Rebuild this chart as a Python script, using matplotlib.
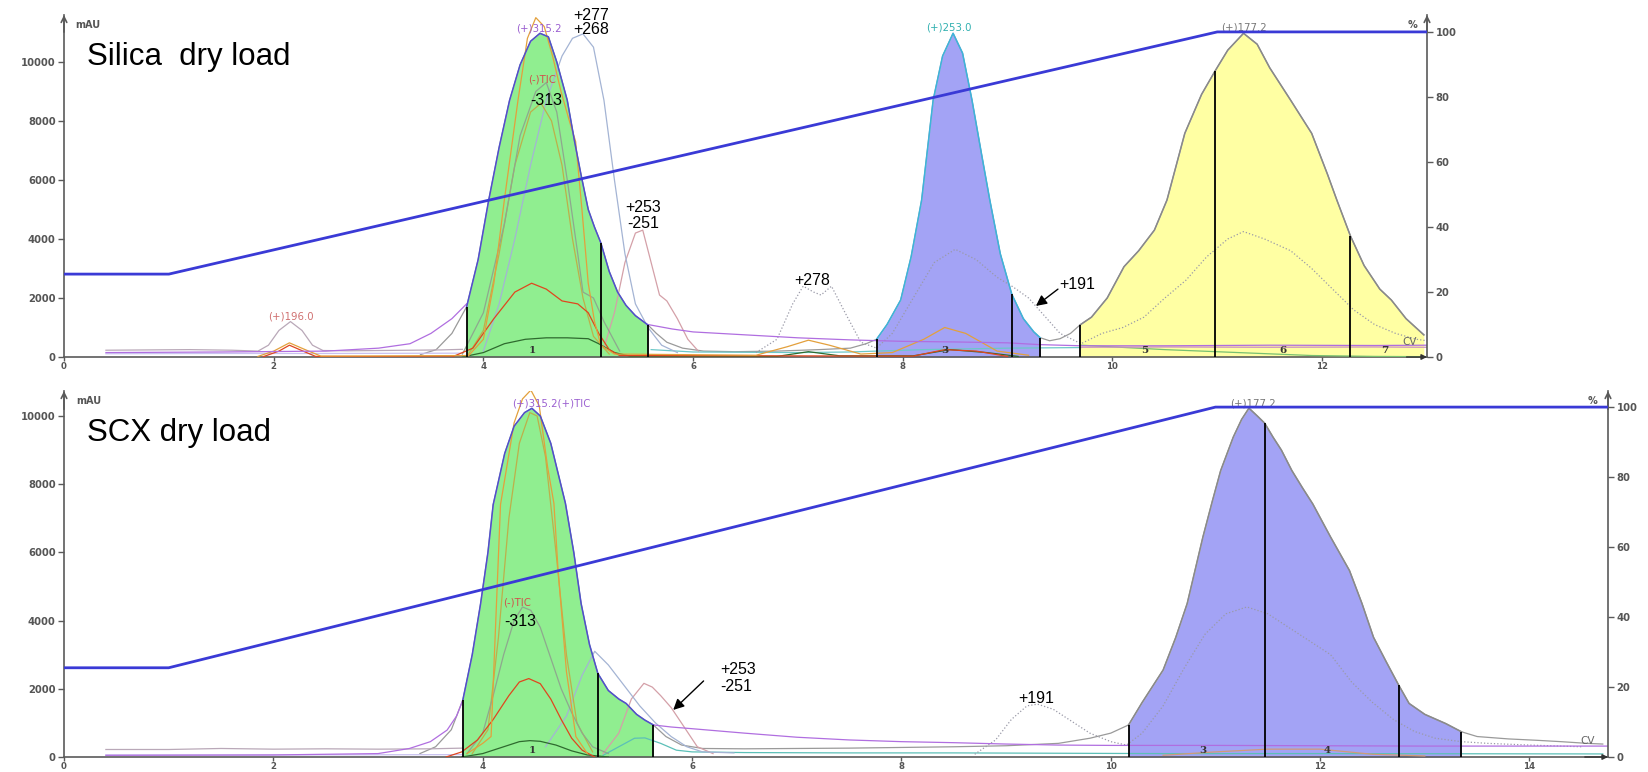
import matplotlib
matplotlib.use("Agg")
import matplotlib.pyplot as plt
import numpy as np
from matplotlib import font_manager

# ---------------- Silica dry load (top run) ----------------
top_uv_t = [3.40, 3.55, 3.70, 3.84, 3.95, 4.05, 4.15, 4.25, 4.35, 4.45, 4.54, 4.62, 4.70, 4.80, 4.87,
            4.93, 5.00, 5.06, 5.12, 5.20, 5.28, 5.36, 5.45, 5.57, 5.65, 5.75, 5.90, 6.10, 6.40, 6.80,
            7.20, 7.50, 7.65, 7.75, 7.85, 7.98, 8.08, 8.18, 8.29, 8.38, 8.48, 8.57, 8.66, 8.75, 8.83,
            8.93, 9.04, 9.15, 9.25, 9.31, 9.40, 9.50, 9.60, 9.69, 9.80, 9.95, 10.11, 10.25, 10.40, 10.52,
            10.69, 10.85, 10.98, 11.10, 11.25, 11.38, 11.50, 11.70, 11.90, 12.05, 12.14, 12.27, 12.40,
            12.55, 12.66, 12.80, 12.97]
top_uv = [80, 250, 800, 1700, 3300, 5300, 7100, 8700, 9900, 10700, 10970, 10850, 10000, 8700, 7300,
          6200, 5000, 4400, 3870, 2900, 2200, 1750, 1400, 1085, 800, 500, 300, 200, 180, 200,
          250, 300, 450, 600, 1100, 1930, 3400, 5320, 8710, 10200, 10970, 10300, 8710, 6900, 5320,
          3500, 2124, 1300, 850, 655, 550, 620, 800, 1085, 1350, 2000, 3060, 3600, 4300, 5320,
          7580, 8900, 9700, 10400, 10970, 10600, 9800, 8700, 7580, 6200, 5320, 4100, 3100,
          2300, 1930, 1300, 750]
top_fractions = [(3.84, 5.57), (7.75, 9.31), (9.69, 12.97)]
top_cuts = [3.84, 5.12, 5.57, 7.75, 9.04, 9.31, 9.69, 10.98, 12.27]
top_fraction_ids = ["1", "3", "5", "6", "7"]
top_fraction_pos = [4.47, 8.40, 10.31, 11.63, 12.60]

top_gradient_t = [0.0, 1.0, 11.0, 13.0]
top_gradient = [25.5, 25.5, 100.0, 100.0]

top_orange_t = [1.85, 2.00, 2.15, 2.30, 2.45, 3.86, 4.00, 4.10, 4.20, 4.33, 4.42, 4.50, 4.58, 4.66, 4.74,
                4.82, 4.88, 4.94, 5.00, 5.06, 5.12, 5.25, 6.60, 6.90, 7.10, 7.30, 7.60, 7.90, 8.20,
                8.40, 8.60, 8.90, 9.20]
top_orange = [20, 200, 480, 250, 30, 50, 600, 2500, 5320, 8700, 10800, 11500, 11200, 10200, 9000,
              8000, 7300, 5000, 2500, 1200, 400, 100, 60, 350, 570, 400, 100, 150, 600,
              1000, 800, 200, 60]
top_red_t = [1.90, 2.05, 2.15, 2.28, 2.40, 3.70, 3.90, 4.10, 4.30, 4.46, 4.60, 4.75, 4.90, 5.00, 5.10,
             5.20, 5.30, 8.10, 8.40, 8.70, 9.00]
top_red = [10, 200, 400, 200, 20, 0, 300, 1300, 2200, 2500, 2300, 1900, 1800, 1500, 800,
           250, 50, 30, 250, 200, 20]
top_dkgreen_t = [3.80, 4.00, 4.20, 4.40, 4.60, 4.80, 5.00, 5.10, 5.25, 5.40, 6.80, 7.10, 7.40, 8.10,
                 8.45, 8.80, 9.10]
top_dkgreen = [0, 150, 450, 600, 650, 650, 620, 450, 150, 30, 20, 180, 40, 40, 250, 150, 20]
top_tic_neg_t = [3.80, 4.00, 4.20, 4.35, 4.50, 4.60, 4.70, 4.80, 4.90, 4.95, 5.05, 5.15, 5.30]
top_tic_neg = [100, 1500, 4500, 7500, 9000, 9300, 8300, 6000, 3500, 2200, 2000, 1200, 200]
top_olive_t = [3.85, 4.00, 4.15, 4.30, 4.45, 4.55, 4.65, 4.75, 4.85, 4.95, 5.05, 5.20]
top_olive = [50, 900, 3500, 6500, 8300, 8600, 8000, 6500, 4000, 2000, 700, 100]
top_m268_t = [4.00, 4.15, 4.30, 4.45, 4.60, 4.75, 4.85, 4.95, 5.05, 5.15, 5.25, 5.35, 5.45, 5.57,
              5.70, 5.85]
top_m268 = [200, 1800, 4000, 6500, 8700, 10200, 10800, 10950, 10500, 8700, 6000, 3500, 1800, 1000,
            400, 150]
top_m253_t = [5.15, 5.25, 5.35, 5.45, 5.52, 5.60, 5.68, 5.75, 5.85, 5.95, 6.05]
top_m253 = [300, 1500, 3200, 4200, 4300, 3200, 2100, 1900, 1300, 600, 200]
top_purple_t = [0.40, 1.50, 2.50, 3.00, 3.30, 3.50, 3.70, 3.84, np.nan, 5.57, 5.80, 6.00, 6.50,
                7.00, 7.50, 8.00, 8.50, 9.00, 9.30, 9.70, 10.50, 11.50, 12.50, 13.00]
top_purple = [150, 170, 200, 300, 450, 800, 1300, 1800, np.nan, 1100, 950, 850, 750,
              650, 580, 530, 510, 480, 420, 380, 380, 400, 390, 400]
top_dotted_t = [6.60, 6.80, 6.95, 7.05, 7.15, 7.22, 7.32, 7.45, 7.60, 7.75, 7.90, 8.10, 8.30, 8.50,
                8.70, 8.90, 9.05, 9.20, 9.35, 9.50, 9.70, 9.90, 10.10, 10.30, 10.50, 10.70, 10.90,
                11.10, 11.25, 11.45, 11.70, 11.90, 12.10, 12.30, 12.50, 12.70, 12.90, 13.00]
top_dotted = [150, 600, 1800, 2400, 2200, 2100, 2400, 1500, 500, 300, 800, 2000, 3200, 3650,
              3300, 2700, 2380, 2000, 1400, 800, 450, 800, 1000, 1350, 2000, 2600, 3400,
              4000, 4250, 4000, 3600, 3000, 2300, 1600, 1100, 800, 600, 550]
top_gray_t = [0.40, 0.80, 1.20, 1.60, 1.85, 1.95, 2.05, 2.16, 2.27, 2.37, 2.47, 2.70, 3.00, 3.30,
              3.60, 3.80]
top_gray = [230, 240, 250, 230, 200, 400, 900, 1200, 900, 400, 220, 210, 220, 230, 240, 260]
top_lav_t = [0.40, 1.50, 2.50, 3.80]
top_lav = [110, 120, 120, 130]
top_teal_t = [5.60, 6.00, 6.50, 7.00, 7.50, 7.75, 8.20, 9.00, 9.70]
top_teal = [250, 170, 160, 150, 170, 200, 250, 300, 320]
top_green_t = [9.70, 10.50, 11.20, 11.90, 12.50, 13.00]
top_green = [400, 250, 150, 50, 20, 10]
top_cv_t = [9.70, 10.50, 11.50, 12.50, 13.00]
top_cv = [330, 340, 330, 340, 330]

# ---------------- SCX dry load (bottom run) ----------------
bot_uv_t = [3.40, 3.55, 3.70, 3.81, 3.90, 3.98, 4.05, 4.10, 4.21, 4.30, 4.40, 4.47, 4.55, 4.65, 4.79,
            4.87, 4.94, 5.02, 5.10, 5.20, 5.30, 5.37, 5.47, 5.55, 5.63, 5.75, 5.90, 6.10, 6.50, 7.00,
            7.50, 8.00, 8.50, 9.00, 9.50, 9.80, 10.00, 10.17, 10.30, 10.50, 10.62, 10.73, 10.88, 10.97,
            11.05, 11.17, 11.25, 11.32, 11.40, 11.47, 11.55, 11.63, 11.73, 11.83, 11.93, 12.10, 12.28,
            12.40, 12.51, 12.63, 12.75, 12.85, 13.00, 13.20, 13.35, 13.50, 13.80, 14.07, 14.30, 14.55,
            14.70]
bot_uv = [100, 300, 800, 1670, 3000, 4500, 6000, 7400, 8900, 9700, 10100, 10225, 10000, 9200, 7440,
          6000, 4500, 3300, 2450, 1950, 1700, 1570, 1250, 1080, 940, 600, 350, 250, 240, 250,
          260, 280, 300, 330, 400, 550, 700, 940, 1600, 2550, 3500, 4500, 6450, 7500,
          8400, 9380, 9900, 10230, 10000, 9790, 9380, 9000, 8400, 7900, 7420, 6450, 5470,
          4500, 3510, 2800, 2110, 1570, 1250, 980, 740, 600, 530, 490, 450, 400,
          380]
bot_fractions = [(3.81, 5.63), (10.17, 13.35)]
bot_cuts = [3.81, 5.10, 5.63, 10.17, 11.47, 12.75, 13.35]
bot_fraction_ids = ["1", "3", "4"]
bot_fraction_pos = [4.47, 10.88, 12.07]

bot_gradient_t = [0.0, 1.0, 11.0, 14.75]
bot_gradient = [25.5, 25.5, 100.0, 100.0]

bot_orange_t = [3.85, 4.00, 4.08, 4.17, 4.30, 4.38, 4.46, 4.54, 4.62, 4.68, 4.72, 4.80, 4.89, 5.00]
bot_orange = [100, 400, 600, 7400, 9800, 10500, 10760, 10300, 8500, 7440, 5480, 2500, 600, 100]
bot_olive_t = [3.90, 4.05, 4.15, 4.25, 4.35, 4.45, 4.52, 4.60, 4.70, 4.80, 4.90, 5.05]
bot_olive = [100, 800, 3500, 7000, 9200, 10100, 10000, 8800, 6000, 3000, 1000, 150]
bot_tic_neg_t = [3.85, 4.00, 4.10, 4.20, 4.30, 4.38, 4.46, 4.55, 4.65, 4.75, 4.85, 4.95, 5.05, 5.20]
bot_tic_neg = [100, 700, 1800, 3000, 4000, 4400, 4300, 3800, 2900, 2000, 1300, 700, 300, 100]
bot_red_t = [3.65, 3.80, 3.95, 4.10, 4.25, 4.35, 4.44, 4.55, 4.65, 4.75, 4.85, 4.95, 5.07]
bot_red = [0, 150, 500, 1100, 1800, 2200, 2300, 2150, 1700, 1100, 550, 200, 0]
bot_dkgreen_t = [3.80, 4.00, 4.20, 4.35, 4.45, 4.55, 4.70, 4.85, 5.00, 5.20]
bot_dkgreen = [0, 100, 300, 450, 480, 460, 350, 180, 60, 0]
bot_m277_t = [4.60, 4.80, 4.95, 5.07, 5.20, 5.35, 5.50, 5.65, 5.80, 5.95, 6.10, 6.40]
bot_m277 = [300, 1200, 2400, 3100, 2700, 2100, 1500, 1000, 600, 300, 150, 120]
bot_m253_t = [5.15, 5.30, 5.42, 5.54, 5.62, 5.70, 5.80, 5.92, 6.05, 6.20]
bot_m253 = [100, 700, 1700, 2160, 2050, 1800, 1450, 900, 300, 100]
bot_teal_t = [5.15, 5.30, 5.45, 5.55, 5.70, 5.85, 6.00, 6.50, 7.50, 8.50, 9.50, 10.50, 12.00, 14.70]
bot_teal = [50, 300, 550, 560, 400, 200, 150, 130, 120, 120, 110, 100, 100, 90]
bot_purple_t = [0.40, 2.00, 3.00, 3.30, 3.50, 3.66, 3.75, 3.81, np.nan, 5.63, 5.80, 6.00, 6.50,
                7.00, 7.50, 8.00, 8.50, 9.00, 9.50, 10.00, 11.00, 12.00, 13.00, 14.00, 14.75]
bot_purple = [50, 60, 100, 250, 450, 790, 1200, 1670, np.nan, 940, 880, 830, 700,
              580, 500, 450, 420, 380, 350, 340, 340, 330, 320, 320, 320]
bot_gray_t = [0.40, 1.00, 1.50, 2.00, 2.50, 3.00, 3.50, 3.80]
bot_gray = [220, 220, 250, 230, 240, 230, 240, 260]
bot_lav_t = [0.40, 2.00, 3.80]
bot_lav = [60, 60, 70]
bot_dotted_t = [8.70, 8.90, 9.05, 9.20, 9.30, 9.45, 9.60, 9.80, 10.00, 10.15, 10.30, 10.50, 10.70,
                10.90, 11.10, 11.30, 11.50, 11.70, 11.90, 12.10, 12.30, 12.50, 12.70, 12.90, 13.10,
                13.35, 13.60, 14.00, 14.50]
bot_dotted = [80, 500, 1100, 1500, 1550, 1400, 1100, 700, 450, 350, 700, 1500, 2600,
              3600, 4200, 4400, 4200, 3800, 3400, 3000, 2200, 1600, 1100, 750, 550,
              450, 400, 350, 300]
bot_tan_t = [10.50, 11.00, 11.50, 12.00, 12.50, 13.00]
bot_tan = [50, 150, 230, 230, 80, 30]

# ---------------- drawing ----------------
W, H = 1649, 772
fig = plt.figure(figsize=(W / 100, H / 100), dpi=100, facecolor="white")

names = {f.name for f in font_manager.fontManager.ttflist}
NARROW = "Liberation Sans Narrow" if "Liberation Sans Narrow" in names else "Liberation Sans"
AXC = "#5a5a5a"
TICKFONT = dict(family="DejaVu Sans", size=7.2, weight="bold", color="#555555")
XTICKFONT = dict(family="DejaVu Sans", size=6.2, weight="bold", color="#555555")


def px_axes(x0, y0, x1, y1):
    return fig.add_axes([x0 / W, 1 - y1 / H, (x1 - x0) / W, (y1 - y0) / H])


def value_at(ts, vs, t):
    return vs[list(ts).index(t)]


def draw_run(ax, uv_t, uv, fractions, fill_colors, edge_colors, cuts, fid, fpos,
             xmax, ymax, pmax, grad_t, grad, traces):
    uv_t = np.array(uv_t)
    uv = np.array(uv, dtype=float)
    ax.set_xlim(0, xmax)
    ax.set_ylim(0, ymax)
    ax.set_facecolor("none")

    # collected fractions
    for (a, b), fc in zip(fractions, fill_colors):
        m = (uv_t >= a - 1e-9) & (uv_t <= b + 1e-9)
        ax.fill_between(uv_t[m], 0, uv[m], color=fc, lw=0, zorder=1)
    # UV trace outside fractions
    ax.plot(uv_t, uv, color="#9a9a9a", lw=0.9, zorder=2)

    # thin MS / auxiliary traces
    for ts, vs, col, ls in traces:
        ax.plot(ts, vs, color=col, lw=0.9, ls=ls, zorder=3)

    # UV outline on the collected fractions
    for (a, b), ec in zip(fractions, edge_colors):
        m = (uv_t >= a - 1e-9) & (uv_t <= b + 1e-9)
        ax.plot(uv_t[m], uv[m], color=ec, lw=1.1, zorder=4)

    # fraction cut marks
    ax.vlines(cuts, 0, [value_at(uv_t, uv, c) for c in cuts], color="black", lw=1.3, zorder=5)
    for lab, x in zip(fid, fpos):
        ax.text(x, 60, lab, fontsize=7.5, fontweight="bold", color="#333333",
                ha="center", va="bottom", zorder=6, family="DejaVu Serif")

    # axes styling
    for s in ["top", "right"]:
        ax.spines[s].set_visible(False)
    for s in ["left", "bottom"]:
        ax.spines[s].set_color(AXC)
        ax.spines[s].set_linewidth(1.2)
    ax.set_xticks(np.arange(0, xmax + 0.01, 2))
    ax.set_xticklabels([str(int(v)) for v in np.arange(0, xmax + 0.01, 2)], **XTICKFONT)
    ax.set_yticks(np.arange(0, ymax, 2000))
    ax.set_yticklabels([str(int(v)) for v in np.arange(0, ymax, 2000)], **TICKFONT)
    ax.tick_params(axis="y", length=4, width=1, color=AXC, pad=2)
    ax.tick_params(axis="x", length=3, width=1, color=AXC, pad=0.5)

    ax2 = ax.twinx()
    ax2.set_ylim(0, pmax)
    ax2.set_xlim(0, xmax)
    ax2.plot(grad_t, grad, color="#3a3ad6", lw=2.0, zorder=7)
    for s in ["top", "left", "bottom"]:
        ax2.spines[s].set_visible(False)
    ax2.spines["right"].set_color(AXC)
    ax2.spines["right"].set_linewidth(1.2)
    ax2.set_yticks([0, 20, 40, 60, 80, 100])
    ax2.set_yticklabels(["0", "20", "40", "60", "80", "100"], **TICKFONT)
    ax2.tick_params(axis="y", length=4, width=1, color=AXC, pad=2)

    # arrow heads on the axis ends
    kw = dict(arrowstyle="->", color=AXC, lw=1.2, mutation_scale=10, shrinkA=0, shrinkB=0)
    ax.annotate("", xy=(0, 1.0), xytext=(0, 0.95), xycoords="axes fraction", arrowprops=kw)
    ax.annotate("", xy=(1, 1.0), xytext=(1, 0.95), xycoords="axes fraction", arrowprops=kw)
    kw2 = dict(arrowstyle="-|>", color="#333333", lw=1.0, mutation_scale=8, shrinkA=0, shrinkB=0)
    ax.annotate("", xy=(1, 0), xytext=(0.985, 0), xycoords="axes fraction", arrowprops=kw2)
    ax.text(0.008, 0.985, "mAU", transform=ax.transAxes, fontsize=7, fontweight="bold",
            color="#555555", ha="left", va="top")
    ax.text(0.993, 0.985, "%", transform=ax.transAxes, fontsize=7, fontweight="bold",
            color="#555555", ha="right", va="top")
    return ax2


def label(ax, x, y, s, color="black", size=11.5, ha="center", family=None, weight="normal"):
    ax.text(x, y, s, color=color, fontsize=size, ha=ha, va="center", zorder=9, clip_on=False,
            family=family or NARROW, fontweight=weight)


def small(ax, x, y, s, color):
    ax.text(x, y, s, color=color, fontsize=7.3, ha="center", va="center", zorder=9,
            clip_on=False, family="DejaVu Sans")


def arrow(ax, xy_from, xy_to):
    ax.annotate("", xy=xy_to, xytext=xy_from,
                arrowprops=dict(arrowstyle="-|>", color="black", lw=1.0, mutation_scale=16,
                                shrinkA=0, shrinkB=0), zorder=9)


# ----- top run -----
ax_t = px_axes(64, 15, 1427, 357)
top_traces = [
    (top_gray_t, top_gray, "#b9a8b8", "-"),
    (top_lav_t, top_lav, "#c9c2f0", "-"),
    (top_teal_t, top_teal, "#6cc8c8", "-"),
    (top_green_t, top_green, "#78c070", "-"),
    (top_cv_t, top_cv, "#cc90c0", "-"),
    (top_dotted_t, top_dotted, "#9a9aa8", ":"),
    (top_m253_t, top_m253, "#d4a0a8", "-"),
    (top_m268_t, top_m268, "#a4b4d4", "-"),
    (top_olive_t, top_olive, "#bdb04a", "-"),
    (top_tic_neg_t, top_tic_neg, "#8ea88e", "-"),
    (top_dkgreen_t, top_dkgreen, "#2e6a2e", "-"),
    (top_red_t, top_red, "#e0461e", "-"),
    (top_orange_t, top_orange, "#e3a03c", "-"),
    (top_purple_t, top_purple, "#b06ee0", "-"),
]
draw_run(ax_t, top_uv_t, top_uv, top_fractions,
         ["#90ee90", "#a3a3f5", "#ffffa3"], ["#5050cc", "#3cb4dc", "#8a8a8a"],
         top_cuts, top_fraction_ids, top_fraction_pos,
         13.0, 11590, 105.2, top_gradient_t, top_gradient, top_traces)

label(ax_t, 0.22, 10170, "Silica  dry load", size=22.5, ha="left")
small(ax_t, 4.53, 11120, "(+)315.2", "#9a5ed0")
label(ax_t, 5.03, 11590, "+277")
label(ax_t, 5.03, 11085, "+268")
small(ax_t, 4.56, 9390, "(-)TIC", "#d0504a")
label(ax_t, 4.60, 8680, "-313")
label(ax_t, 5.52, 5050, "+253")
label(ax_t, 5.52, 4510, "-251")
label(ax_t, 7.14, 2580, "+278")
label(ax_t, 9.66, 2470, "+191")
arrow(ax_t, (9.48, 2300), (9.27, 1730))
small(ax_t, 8.44, 11150, "(+)253.0", "#30b0b0")
small(ax_t, 11.25, 11150, "(+)177.2", "#777777")
small(ax_t, 2.16, 1360, "(+)196.0", "#d07070")
ax_t.text(12.83, 340, "CV", fontsize=7.5, color="#666666", ha="center", va="bottom", zorder=9)

# ----- bottom run -----
ax_b = px_axes(64, 391, 1608, 757)
bot_traces = [
    (bot_gray_t, bot_gray, "#b9a8b8", "-"),
    (bot_lav_t, bot_lav, "#c9c2f0", "-"),
    (bot_teal_t, bot_teal, "#5cc0b8", "-"),
    (bot_tan_t, bot_tan, "#d09a7a", "-"),
    (bot_dotted_t, bot_dotted, "#9a9aa8", ":"),
    (bot_m253_t, bot_m253, "#d4a0a8", "-"),
    (bot_m277_t, bot_m277, "#a4b4d4", "-"),
    (bot_olive_t, bot_olive, "#bdb04a", "-"),
    (bot_tic_neg_t, bot_tic_neg, "#8ea88e", "-"),
    (bot_dkgreen_t, bot_dkgreen, "#2e6a2e", "-"),
    (bot_red_t, bot_red, "#e0461e", "-"),
    (bot_orange_t, bot_orange, "#e3a03c", "-"),
    (bot_purple_t, bot_purple, "#b06ee0", "-"),
]
draw_run(ax_b, bot_uv_t, bot_uv, bot_fractions,
         ["#90ee90", "#a3a3f5"], ["#5050cc", "#8a8a8a"],
         bot_cuts, bot_fraction_ids, bot_fraction_pos,
         14.75, 10733, 104.6, bot_gradient_t, bot_gradient, bot_traces)

label(ax_b, 0.22, 9500, "SCX dry load", size=22.5, ha="left")
small(ax_b, 4.66, 10380, "(+)315.2(+)TIC", "#9a5ed0")
small(ax_b, 4.33, 4545, "(-)TIC", "#d0504a")
label(ax_b, 4.36, 3960, "-313")
label(ax_b, 6.27, 2580, "+253", ha="left")
label(ax_b, 6.27, 2080, "-251", ha="left")
arrow(ax_b, (6.11, 2230), (5.82, 1380))
label(ax_b, 9.29, 1730, "+191")
small(ax_b, 11.36, 10380, "(+)177.2", "#777777")
ax_b.text(14.56, 330, "CV", fontsize=7.5, color="#666666", ha="center", va="bottom", zorder=9)

fig.savefig("out.png", dpi=100, facecolor="white")
